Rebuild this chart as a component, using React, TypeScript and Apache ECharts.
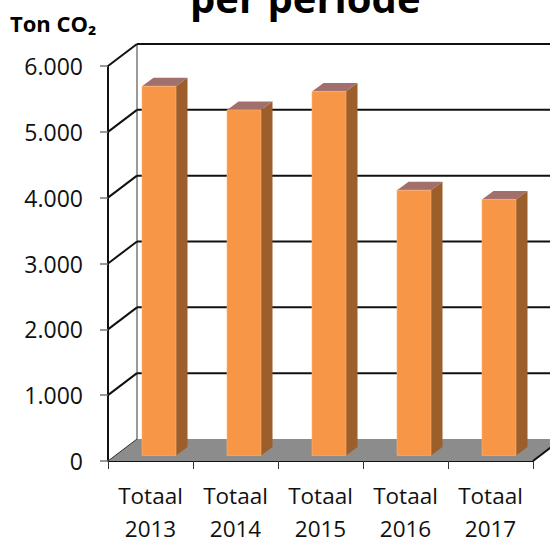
import React, { useEffect, useRef } from "react";
import * as echarts from "echarts";

const categories = ["Totaal\n2013", "Totaal\n2014", "Totaal\n2015", "Totaal\n2016", "Totaal\n2017"];
const co2Values = [5610, 5250, 5530, 4030, 3890];
const gridTicks = [1000, 2000, 3000, 4000, 5000, 6000];

const FONT = "'Open Sans', 'Noto Sans', sans-serif";
const WALL_DX = 29;
const WALL_DY = 22;
const BAR_W = 34;
const BAR_GAP_DX = 8.5;
const BAR_GAP_DY = 5.5;
const BAR_DX = 11.5;
const BAR_DY = 8.5;

function renderGrid(params: any, api: any) {
  const cs = params.coordSys;
  const y = api.coord([0, api.value(0)])[1];
  const x0 = cs.x;
  const x1 = cs.x + cs.width;
  const line = { stroke: "#111111", lineWidth: 2, fill: "none" };
  return {
    type: "group",
    children: [
      { type: "line", shape: { x1: x0, y1: y, x2: x0 + WALL_DX, y2: y - WALL_DY }, style: line },
      { type: "line", shape: { x1: x0 + WALL_DX, y1: y - WALL_DY, x2: x1 + WALL_DX, y2: y - WALL_DY }, style: line },
    ],
  };
}

function renderFloor(params: any, api: any) {
  const cs = params.coordSys;
  const y = api.coord([0, 0])[1];
  const x0 = cs.x;
  const x1 = cs.x + cs.width;
  return {
    type: "group",
    children: [
      {
        type: "polygon",
        shape: { points: [[x0, y], [x0 + WALL_DX, y - WALL_DY], [x1 + WALL_DX, y - WALL_DY], [x1, y]] },
        style: { fill: "#8c8c8c", stroke: "none" },
      },
      {
        type: "line",
        shape: { x1: x0 + WALL_DX, y1: cs.y - WALL_DY, x2: x0 + WALL_DX, y2: y - WALL_DY },
        style: { stroke: "#9a9a9a", lineWidth: 2 },
      },
      {
        type: "line",
        shape: { x1: x1, y1: y, x2: x1 + WALL_DX, y2: y - WALL_DY },
        style: { stroke: "#111111", lineWidth: 2 },
      },
      {
        type: "line",
        shape: { x1: x0, y1: y, x2: x0 + WALL_DX, y2: y - WALL_DY },
        style: { stroke: "#333333", lineWidth: 1 },
      },
    ],
  };
}

function renderBar(_params: any, api: any) {
  const idx = api.value(0);
  const top = api.coord([idx, api.value(1)]);
  const base = api.coord([idx, 0]);
  const l = top[0] + BAR_GAP_DX - BAR_W / 2;
  const r = l + BAR_W;
  const b = base[1] - BAR_GAP_DY;
  const h = base[1] - top[1];
  const t = b - h;
  return {
    type: "group",
    children: [
      {
        type: "polygon",
        shape: { points: [[l, t], [l + BAR_DX, t - BAR_DY], [r + BAR_DX, t - BAR_DY], [r, t]] },
        style: { fill: "#a2706c", stroke: "none" },
      },
      {
        type: "polygon",
        shape: { points: [[r, t], [r + BAR_DX, t - BAR_DY], [r + BAR_DX, b - BAR_DY], [r, b]] },
        style: { fill: "#9c5f2b", stroke: "none" },
      },
      {
        type: "rect",
        shape: { x: l, y: t, width: BAR_W, height: h },
        style: { fill: "#f79646", stroke: "#fbb27a", lineWidth: 0.6 },
      },
    ],
  };
}

export default function App() {
  const ref = useRef<HTMLDivElement>(null);
  useEffect(() => {
    document.body.style.margin = "0";
    const chart = echarts.init(ref.current!, undefined, { renderer: "svg" });
    chart.setOption({
      animation: false,
      backgroundColor: "#ffffff",
      title: {
        text: "per periode",
        left: 190,
        top: -23,
        padding: 0,
        textStyle: { fontFamily: FONT, fontSize: 40, fontWeight: "bold", color: "#000000" },
      },
      graphic: [
        {
          type: "text",
          x: 10,
          y: 12,
          style: { text: "Ton CO₂", fontFamily: FONT, fontSize: 22, fontWeight: "bold", fill: "#000000" },
        },
      ],
      grid: { left: 108, top: 66, width: 425, height: 395, outerBoundsMode: "none" },
      xAxis: {
        type: "category",
        data: categories,
        axisLine: { show: true, lineStyle: { color: "#111111", width: 2 } },
        axisTick: { show: true, length: 8, alignWithLabel: false, lineStyle: { color: "#333333", width: 1 } },
        axisLabel: {
          color: "#111111",
          fontFamily: FONT,
          fontSize: 22.5,
          margin: 10,
          interval: 0,
          formatter: (v: string) => {
            const [name, year] = v.split("\n");
            return `{a|${name}}\n{b|${year}}`;
          },
          rich: {
            a: { fontFamily: FONT, fontSize: 22.5, color: "#111111", lineHeight: 48 },
            b: { fontFamily: FONT, fontSize: 22.5, color: "#111111", lineHeight: 18 },
          },
        },
        splitLine: { show: false },
      },
      yAxis: {
        type: "value",
        min: 0,
        max: 6000,
        interval: 1000,
        axisLine: { show: true, lineStyle: { color: "#111111", width: 2 } },
        axisTick: { show: true, length: 8, lineStyle: { color: "#777777", width: 1.5 } },
        axisLabel: {
          color: "#111111",
          fontFamily: FONT,
          fontSize: 23,
          margin: 25,
          formatter: (v: number) => (v === 0 ? "0" : (v / 1000).toFixed(0) + ".000"),
        },
        splitLine: { show: false },
      },
      series: [
        {
          type: "custom",
          name: "Floor",
          coordinateSystem: "cartesian2d",
          clip: false,
          z: 1,
          silent: true,
          renderItem: renderFloor,
          data: [0],
        },
        {
          type: "custom",
          name: "Gridlines",
          coordinateSystem: "cartesian2d",
          clip: false,
          z: 2,
          silent: true,
          renderItem: renderGrid,
          encode: { y: 0 },
          data: gridTicks.map((v) => [v]),
        },
        {
          type: "custom",
          name: "Ton CO₂",
          coordinateSystem: "cartesian2d",
          clip: false,
          z: 3,
          renderItem: renderBar,
          encode: { x: 0, y: 1 },
          data: co2Values.map((v, i) => [i, v]),
        },
      ],
    });
    return () => chart.dispose();
  }, []);
  return <div ref={ref} style={{ width: 550, height: 538 }} />;
}
